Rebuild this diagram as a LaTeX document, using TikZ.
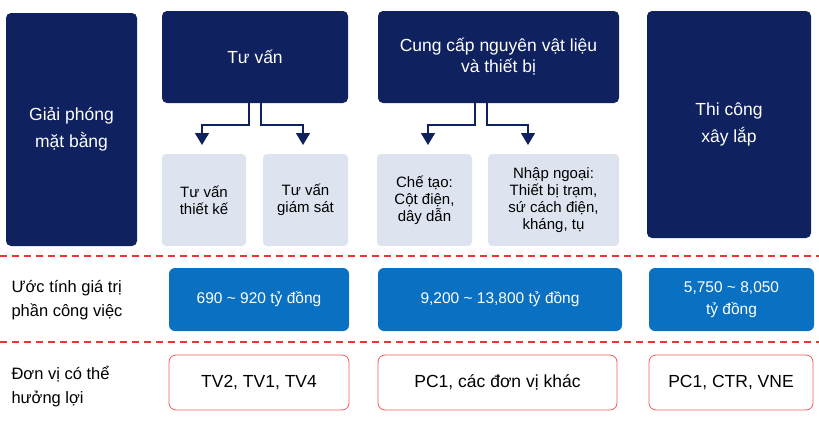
\documentclass[tikz,border=0pt]{standalone}
\usepackage{fontspec}
\setmainfont{Liberation Sans}
\usetikzlibrary{arrows.meta}
\definecolor{navy}{HTML}{0F215E}
\definecolor{pale}{HTML}{DDE4F0}
\definecolor{midblue}{HTML}{0A70C2}
\definecolor{dashred}{HTML}{EE3333}
\tikzset{
  darkbox/.style={fill=navy, rounded corners=5pt, text=white, align=center, font=\fontsize{17.5}{27}\selectfont},
  lightbox/.style={fill=pale, rounded corners=4pt, align=center, font=\fontsize{15}{17}\selectfont},
  valbox/.style={fill=midblue, rounded corners=6pt, text=white, align=center, font=\fontsize{15.5}{22}\selectfont},
  redbox/.style={draw=dashred!80, line width=0.8pt, fill=white, rounded corners=7pt, align=center, font=\fontsize{17.5}{20}\selectfont},
  rowlabel/.style={anchor=west, align=left, font=\fontsize{16.5}{24}\selectfont},
  split/.style={navy, line width=1.2pt, -{Triangle[length=12pt,width=14pt]}}
}
\begin{document}
\begin{tikzpicture}[x=1pt,y=-1pt]
\useasboundingbox (0,0) rectangle (819,423);
% top row
\node[darkbox, minimum width=131, minimum height=233] (gpmb) at (71.5,129.5) {Giải phóng\\mặt bằng};
\node[darkbox, minimum width=186, minimum height=92] (tv) at (255,57) {Tư vấn};
\node[darkbox, minimum width=241, minimum height=92, font=\fontsize{17.5}{21}\selectfont] (cc) at (498.5,57) {Cung cấp nguyên vật liệu\\và thiết bị};
\node[darkbox, minimum width=164, minimum height=227] (tc) at (729,124.5) {Thi công\\xây lắp};
\node[lightbox, minimum width=84, minimum height=92] (tvtk) at (204,200) {Tư vấn\\thiết kế};
\node[lightbox, minimum width=85, minimum height=92] (tvgs) at (305.5,200) {Tư vấn\\giám sát};
\node[lightbox, minimum width=95, minimum height=92] (ct) at (424.5,200) {Chế tạo:\\Cột điện,\\dây dẫn};
\node[lightbox, minimum width=131, minimum height=92] (nn) at (553.5,200) {Nhập ngoại:\\Thiết bị trạm,\\sứ cách điện,\\kháng, tụ};
% splits
\draw[split] (tv.south -| 249,0) |- (202,125) -- (202,145);
\draw[split] (tv.south -| 261,0) |- (303,125) -- (303,145);
\draw[split] (cc.south -| 475,0) |- (428,125) -- (428,145);
\draw[split] (cc.south -| 487,0) |- (528,125) -- (528,145);
% separators
\draw[dashred, dashed, dash pattern=on 7pt off 5pt, line width=1.1pt] (0,256) -- (819,256);
\draw[dashred, dashed, dash pattern=on 7pt off 5pt, line width=1.1pt] (0,342) -- (819,342);
% value row
\node[rowlabel] (uoc) at (8,300) {Ước tính giá trị\\phần công việc};
\node[valbox, minimum width=180, minimum height=63] (v1) at (259,299.5) {690 \textasciitilde{} 920 tỷ đồng};
\node[valbox, minimum width=244, minimum height=63] (v2) at (500,299.5) {9,200 \textasciitilde{} 13,800 tỷ đồng};
\node[valbox, minimum width=165, minimum height=63] (v3) at (731.5,299.5) {5,750 \textasciitilde{} 8,050\\tỷ đồng};
% beneficiary row
\node[rowlabel] (dv) at (8,387) {Đơn vị có thể\\hưởng lợi};
\node[redbox, minimum width=180, minimum height=55] (b1) at (259,382.5) {TV2, TV1, TV4};
\node[redbox, minimum width=239, minimum height=55] (b2) at (497.5,382.5) {PC1, các đơn vị khác};
\node[redbox, minimum width=164, minimum height=55] (b3) at (731,382.5) {PC1, CTR, VNE};
\end{tikzpicture}
\end{document}
